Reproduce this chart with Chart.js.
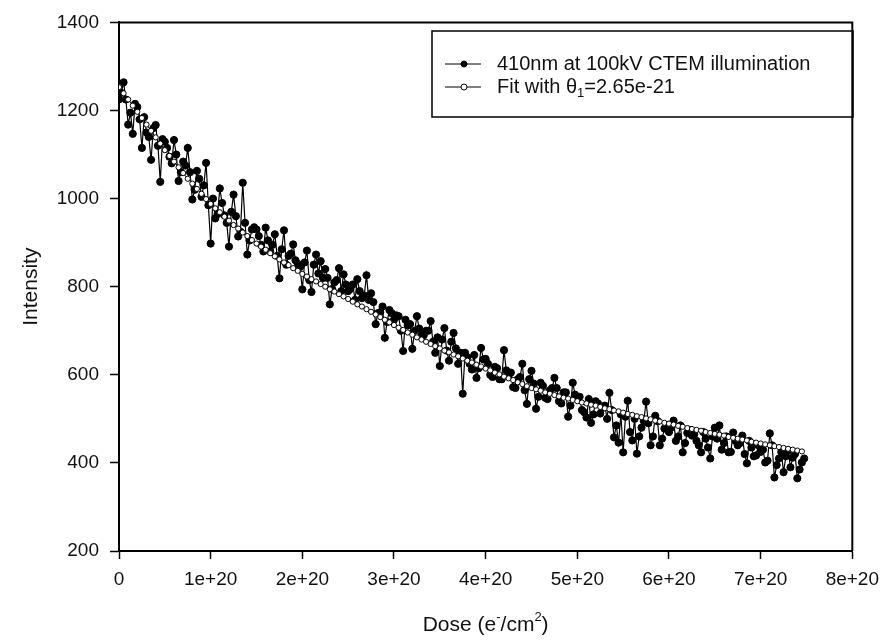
<!DOCTYPE html>
<html>
<head>
<meta charset="utf-8">
<script src="https://cdn.jsdelivr.net/npm/chart.js@4.4.1/dist/chart.umd.min.js"></script>
<style>
  body { margin: 0; background: #fff; }
  #chart { display: block; }
</style>
</head>
<body>
<canvas id="chart" width="888" height="642"></canvas>
<script>
// measured points, dose in units of 1e20 e-/cm2
const doseE20 = [
  0, 0.025, 0.05, 0.075, 0.1, 0.125, 0.15, 0.175, 0.2, 0.225,
  0.25, 0.275, 0.3, 0.325, 0.35, 0.375, 0.4, 0.425, 0.45, 0.475,
  0.5, 0.525, 0.55, 0.575, 0.6, 0.625, 0.65, 0.675, 0.7, 0.725,
  0.75, 0.775, 0.8, 0.825, 0.85, 0.875, 0.9, 0.925, 0.95, 0.975,
  1, 1.025, 1.05, 1.075, 1.1, 1.125, 1.15, 1.175, 1.2, 1.225,
  1.25, 1.275, 1.3, 1.325, 1.35, 1.375, 1.4, 1.425, 1.45, 1.475,
  1.5, 1.525, 1.55, 1.575, 1.6, 1.625, 1.65, 1.675, 1.7, 1.725,
  1.75, 1.775, 1.8, 1.825, 1.85, 1.875, 1.9, 1.925, 1.95, 1.975,
  2, 2.025, 2.05, 2.075, 2.1, 2.125, 2.15, 2.175, 2.2, 2.225,
  2.25, 2.275, 2.3, 2.325, 2.35, 2.375, 2.4, 2.425, 2.45, 2.475,
  2.5, 2.525, 2.55, 2.575, 2.6, 2.625, 2.65, 2.675, 2.7, 2.725,
  2.75, 2.775, 2.8, 2.825, 2.85, 2.875, 2.9, 2.925, 2.95, 2.975,
  3, 3.025, 3.05, 3.075, 3.1, 3.125, 3.15, 3.175, 3.2, 3.225,
  3.25, 3.275, 3.3, 3.325, 3.35, 3.375, 3.4, 3.425, 3.45, 3.475,
  3.5, 3.525, 3.55, 3.575, 3.6, 3.625, 3.65, 3.675, 3.7, 3.725,
  3.75, 3.775, 3.8, 3.825, 3.85, 3.875, 3.9, 3.925, 3.95, 3.975,
  4, 4.025, 4.05, 4.075, 4.1, 4.125, 4.15, 4.175, 4.2, 4.225,
  4.25, 4.275, 4.3, 4.325, 4.35, 4.375, 4.4, 4.425, 4.45, 4.475,
  4.5, 4.525, 4.55, 4.575, 4.6, 4.625, 4.65, 4.675, 4.7, 4.725,
  4.75, 4.775, 4.8, 4.825, 4.85, 4.875, 4.9, 4.925, 4.95, 4.975,
  5, 5.025, 5.05, 5.075, 5.1, 5.125, 5.15, 5.175, 5.2, 5.225,
  5.25, 5.275, 5.3, 5.325, 5.35, 5.375, 5.4, 5.425, 5.45, 5.475,
  5.5, 5.525, 5.55, 5.575, 5.6, 5.625, 5.65, 5.675, 5.7, 5.725,
  5.75, 5.775, 5.8, 5.825, 5.85, 5.875, 5.9, 5.925, 5.95, 5.975,
  6, 6.025, 6.05, 6.075, 6.1, 6.125, 6.15, 6.175, 6.2, 6.225,
  6.25, 6.275, 6.3, 6.325, 6.35, 6.375, 6.4, 6.425, 6.45, 6.475,
  6.5, 6.525, 6.55, 6.575, 6.6, 6.625, 6.65, 6.675, 6.7, 6.725,
  6.75, 6.775, 6.8, 6.825, 6.85, 6.875, 6.9, 6.925, 6.95, 6.975,
  7, 7.025, 7.05, 7.075, 7.1, 7.125, 7.15, 7.175, 7.2, 7.225,
  7.25, 7.275, 7.3, 7.325, 7.35, 7.375, 7.4, 7.425, 7.45, 7.475
];

const intensity = [
  1225, 1240, 1264, 1225, 1168, 1195, 1147, 1215, 1208, 1180,
  1115, 1185, 1150, 1140, 1088, 1160, 1167, 1120, 1038, 1135,
  1129, 1115, 1095, 1080, 1133, 1100, 1040, 1060, 1084, 1075,
  1115, 1060, 998, 1020, 1063, 1045, 1004, 1030, 1081, 985,
  898, 1000, 955, 965, 1023, 990, 962, 945, 891, 970,
  1009, 960, 914, 925, 1036, 945, 873, 905, 930, 935,
  930, 915, 895, 880, 934, 905, 880, 895, 919, 870,
  819, 885, 928, 850, 870, 875, 896, 860, 852, 845,
  794, 855, 882, 815, 788, 850, 873, 830, 858, 820,
  840, 820, 760, 795, 810, 815, 842, 790, 828, 805,
  790, 795, 805, 770, 817, 790, 774, 780, 826, 770,
  785, 765, 715, 740, 742, 755, 684, 720, 747, 740,
  725, 735, 733, 700, 654, 725, 712, 715, 659, 700,
  733, 705, 690, 690, 700, 700, 722, 675, 650, 685,
  620, 680, 706, 655, 632, 675, 695, 660, 625, 650,
  557, 650, 640, 625, 612, 645, 593, 615, 661, 635,
  636, 625, 600, 595, 618, 615, 590, 590, 656, 610,
  598, 605, 572, 570, 590, 595, 625, 565, 534, 590,
  609, 580, 523, 550, 582, 575, 548, 545, 565, 570,
  593, 570, 540, 535, 560, 560, 505, 530, 582, 555,
  548, 550, 520, 515, 503, 545, 491, 510, 540, 535,
  512, 525, 530, 500, 559, 520, 458, 485, 446, 510,
  424, 505, 541, 470, 451, 500, 421, 460, 480, 495,
  539, 490, 440, 460, 507, 495, 440, 455, 478, 480,
  470, 480, 496, 450, 460, 485, 424, 445, 468, 475,
  462, 465, 450, 440, 424, 470, 455, 435, 410, 460,
  480, 455, 485, 430, 445, 460, 424, 425, 469, 450,
  440, 445, 462, 420, 399, 450, 435, 415, 417, 440,
  425, 430, 401, 405, 467, 440, 367, 395, 410, 425,
  379, 415, 428, 390, 412, 420, 365, 385, 401, 410
];

// fitted curve, dose in units of 1e20 e-/cm2
const fitDoseE20 = [
  0, 0.05, 0.1, 0.15, 0.2, 0.25, 0.3, 0.35, 0.4, 0.45,
  0.5, 0.55, 0.6, 0.65, 0.7, 0.75, 0.8, 0.85, 0.9, 0.95,
  1, 1.05, 1.1, 1.15, 1.2, 1.25, 1.3, 1.35, 1.4, 1.45,
  1.5, 1.55, 1.6, 1.65, 1.7, 1.75, 1.8, 1.85, 1.9, 1.95,
  2, 2.05, 2.1, 2.15, 2.2, 2.25, 2.3, 2.35, 2.4, 2.45,
  2.5, 2.55, 2.6, 2.65, 2.7, 2.75, 2.8, 2.85, 2.9, 2.95,
  3, 3.05, 3.1, 3.15, 3.2, 3.25, 3.3, 3.35, 3.4, 3.45,
  3.5, 3.55, 3.6, 3.65, 3.7, 3.75, 3.8, 3.85, 3.9, 3.95,
  4, 4.05, 4.1, 4.15, 4.2, 4.25, 4.3, 4.35, 4.4, 4.45,
  4.5, 4.55, 4.6, 4.65, 4.7, 4.75, 4.8, 4.85, 4.9, 4.95,
  5, 5.05, 5.1, 5.15, 5.2, 5.25, 5.3, 5.35, 5.4, 5.45,
  5.5, 5.55, 5.6, 5.65, 5.7, 5.75, 5.8, 5.85, 5.9, 5.95,
  6, 6.05, 6.1, 6.15, 6.2, 6.25, 6.3, 6.35, 6.4, 6.45,
  6.5, 6.55, 6.6, 6.65, 6.7, 6.75, 6.8, 6.85, 6.9, 6.95,
  7, 7.05, 7.1, 7.15, 7.2, 7.25, 7.3, 7.35, 7.4, 7.45
];

const fitIntensity = [
  1253, 1239, 1225, 1211, 1197, 1183, 1168, 1154, 1139, 1125,
  1110, 1097, 1084, 1071, 1058, 1045, 1034, 1022, 1011, 999,
  988, 978, 969, 959, 950, 940, 932, 923, 915, 906,
  898, 891, 884, 876, 869, 862, 855, 849, 842, 836,
  829, 823, 817, 812, 806, 800, 794, 789, 783, 778,
  772, 766, 760, 755, 749, 743, 737, 731, 725, 719,
  713, 707, 702, 696, 691, 685, 680, 675, 670, 665,
  660, 655, 651, 646, 642, 637, 632, 628, 623, 619,
  614, 610, 605, 601, 596, 592, 588, 583, 579, 574,
  570, 567, 564, 560, 557, 554, 551, 548, 546, 543,
  540, 537, 535, 532, 530, 527, 524, 522, 519, 517,
  514, 511, 509, 506, 504, 501, 499, 496, 494, 491,
  489, 487, 484, 482, 479, 477, 475, 473, 470, 468,
  466, 464, 462, 459, 457, 455, 453, 451, 448, 446,
  444, 442, 440, 438, 436, 434, 432, 430, 428, 426
];

const xTickValues = [0, 1e20, 2e20, 3e20, 4e20, 5e20, 6e20, 7e20, 8e20];
const xTickLabels = ['0', '1e+20', '2e+20', '3e+20', '4e+20', '5e+20', '6e+20', '7e+20', '8e+20'];
const yTickValues = [200, 400, 600, 800, 1000, 1200, 1400];

const seriesNames = ['410nm at 100kV CTEM illumination', 'Fit with θ'];

const FONT = '"Liberation Sans", Arial, Helvetica, sans-serif';

const toPoints = (xs, ys) => ys.map((y, i) => ({ x: xs[i] * 1e20, y: y }));

// frame on top and right side of the plot
const framePlugin = {
  id: 'frame',
  afterDatasetsDraw(chart) {
    const { ctx, chartArea } = chart;
    ctx.save();
    ctx.strokeStyle = '#000';
    ctx.lineWidth = 2;
    ctx.beginPath();
    ctx.moveTo(chartArea.left, chartArea.top);
    ctx.lineTo(chartArea.right, chartArea.top);
    ctx.lineTo(chartArea.right, chartArea.bottom);
    ctx.stroke();
    ctx.restore();
  }
};

// legend box drawn by hand (line + marker sample, subscript in the fit label)
const legendPlugin = {
  id: 'boxLegend',
  afterDraw(chart) {
    const ctx = chart.ctx;
    ctx.save();
    ctx.strokeStyle = '#000';
    ctx.lineWidth = 1.5;
    ctx.strokeRect(432, 31, 421, 86);

    const rows = [64, 87];
    ctx.lineWidth = 1;
    rows.forEach((y, i) => {
      ctx.beginPath();
      ctx.moveTo(445, y);
      ctx.lineTo(481, y);
      ctx.stroke();
      ctx.beginPath();
      ctx.arc(464, y, 3, 0, Math.PI * 2);
      ctx.fillStyle = i === 0 ? '#000' : '#fff';
      ctx.fill();
      ctx.stroke();
    });

    ctx.fillStyle = '#111';
    ctx.textBaseline = 'middle';
    ctx.textAlign = 'left';
    ctx.font = '20px ' + FONT;
    ctx.fillText(seriesNames[0], 497, rows[0]);
    let x = 497;
    ctx.fillText(seriesNames[1], x, rows[1]);
    x += ctx.measureText(seriesNames[1]).width;
    ctx.font = '13px ' + FONT;
    ctx.fillText('1', x, rows[1] + 6);
    x += ctx.measureText('1').width;
    ctx.font = '20px ' + FONT;
    ctx.fillText('=2.65e-21', x, rows[1]);
    ctx.restore();
  }
};

// axis titles with superscripts
const titlePlugin = {
  id: 'axisTitles',
  afterDraw(chart) {
    const ctx = chart.ctx;
    const area = chart.chartArea;
    ctx.save();
    ctx.fillStyle = '#111';
    ctx.textBaseline = 'middle';

    ctx.save();
    ctx.translate(31, (area.top + area.bottom) / 2);
    ctx.rotate(-Math.PI / 2);
    ctx.textAlign = 'center';
    ctx.font = '21px ' + FONT;
    ctx.fillText('Intensity', 0, 0);
    ctx.restore();

    const parts = [
      { t: 'Dose (e', size: 21, dy: 0 },
      { t: '-', size: 13, dy: -8 },
      { t: '/cm', size: 21, dy: 0 },
      { t: '2', size: 13, dy: -8 },
      { t: ')', size: 21, dy: 0 }
    ];
    let total = 0;
    parts.forEach(p => {
      ctx.font = p.size + 'px ' + FONT;
      p.w = ctx.measureText(p.t).width;
      total += p.w;
    });
    let x = (area.left + area.right) / 2 - total / 2;
    ctx.textAlign = 'left';
    parts.forEach(p => {
      ctx.font = p.size + 'px ' + FONT;
      ctx.fillText(p.t, x, 625 + p.dy);
      x += p.w;
    });
    ctx.restore();
  }
};

new Chart(document.getElementById('chart'), {
  type: 'scatter',
  data: {
    datasets: [
      {
        label: 'Fit with θ1=2.65e-21',
        data: toPoints(fitDoseE20, fitIntensity),
        showLine: true,
        borderColor: '#000',
        borderWidth: 1,
        backgroundColor: '#fff',
        pointBackgroundColor: '#fff',
        pointBorderColor: '#000',
        pointBorderWidth: 1,
        pointRadius: 2.6,
        order: 0
      },
      {
        label: seriesNames[0],
        data: toPoints(doseE20, intensity),
        showLine: true,
        borderColor: '#000',
        borderWidth: 1.2,
        backgroundColor: '#000',
        pointBackgroundColor: '#000',
        pointBorderColor: '#000',
        pointBorderWidth: 1,
        pointRadius: 3.6,
        order: 1
      }
    ]
  },
  options: {
    responsive: false,
    animation: false,
    layout: { padding: { left: 0, top: 20, right: 33, bottom: 0 } },
    plugins: {
      legend: { display: false },
      tooltip: { enabled: false }
    },
    scales: {
      x: {
        type: 'linear',
        min: 0,
        max: 8e20,
        afterBuildTicks: (scale) => { scale.ticks = xTickValues.map(v => ({ value: v })); },
        afterFit: (scale) => { scale.height = 91; },
        ticks: {
          autoSkip: false,
          maxRotation: 0,
          padding: 9,
          color: '#111',
          font: { family: FONT, size: 19 },
          callback: (value, index) => xTickLabels[index]
        },
        grid: { drawOnChartArea: false, tickLength: 8, color: '#000', tickWidth: 1.5 },
        border: { display: true, color: '#000', width: 2 }
      },
      y: {
        type: 'linear',
        min: 200,
        max: 1400,
        afterBuildTicks: (scale) => { scale.ticks = yTickValues.map(v => ({ value: v })); },
        afterFit: (scale) => { scale.width = 119; },
        ticks: {
          padding: 11,
          color: '#111',
          font: { family: FONT, size: 19 },
          callback: (value) => String(value)
        },
        grid: { drawOnChartArea: false, tickLength: 9, color: '#000', tickWidth: 1.5 },
        border: { display: true, color: '#000', width: 2 }
      }
    }
  },
  plugins: [framePlugin, legendPlugin, titlePlugin]
});
</script>
</body>
</html>
